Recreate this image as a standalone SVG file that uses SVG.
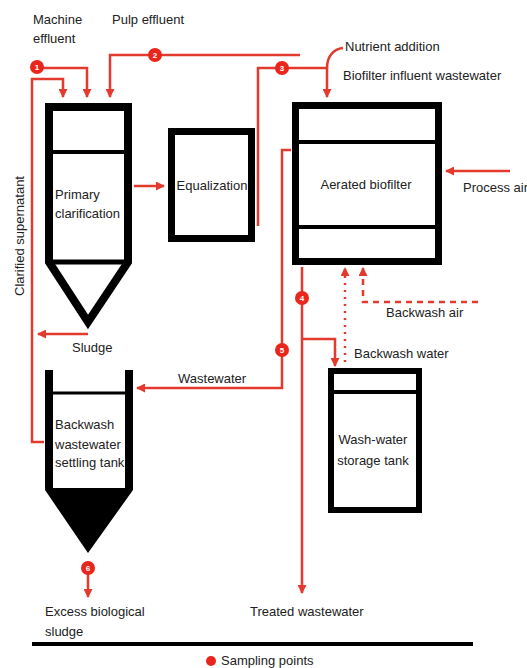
<svg xmlns="http://www.w3.org/2000/svg" width="527" height="668" viewBox="0 0 527 668">
<style>
text{font-family:"Liberation Sans",Arial,sans-serif;font-size:13px;fill:#222}
.c{text-anchor:middle}
.box{fill:#fff;stroke:#000;stroke-width:7}
.div{stroke:#000;stroke-width:4}
.r{fill:none;stroke:#e23a2c;stroke-width:2.5}
.dot{stroke-dasharray:2 5}
.dash{stroke-dasharray:6 5}
.sp{fill:#e8261c}
.num{font-size:8px;fill:#fff;text-anchor:middle;font-weight:bold}
</style>
<defs>
<marker id="a" markerUnits="userSpaceOnUse" markerWidth="9" markerHeight="9" refX="8" refY="4.5" orient="auto">
<path d="M0,0 L9,4.5 L0,9 z" fill="#e23a2c"/>
</marker>
</defs>
<rect width="527" height="668" fill="#fff"/>

<g id="primary">
<path d="M49,107 H128 V262 L88,322 L49,262 Z" fill="#fff" stroke="#000" stroke-width="8" stroke-linejoin="miter"/>
<line class="div" x1="49" y1="152" x2="128" y2="152"/>
<line x1="49" y1="262" x2="128" y2="262" stroke="#000" stroke-width="5"/>
<text x="55" y="199">Primary</text>
<text x="55" y="218">clarification</text>
</g>

<g id="equalization">
<rect class="box" x="171.5" y="131.5" width="80" height="107"/>
<text class="c" x="212" y="190">Equalization</text>
</g>

<g id="biofilter">
<rect class="box" x="295.5" y="105.5" width="143" height="156"/>
<line class="div" x1="296" y1="142" x2="438" y2="142"/>
<line class="div" x1="296" y1="227" x2="438" y2="227"/>
<text class="c" x="366" y="189">Aerated biofilter</text>
</g>

<g id="washwater">
<rect x="331" y="371" width="88" height="139" fill="#fff" stroke="#000" stroke-width="6"/>
<line class="div" x1="331" y1="392" x2="419" y2="392"/>
<text class="c" x="373" y="444">Wash-water</text>
<text class="c" x="373" y="465">storage tank</text>
</g>

<g id="settling">
<path d="M45,370 H53 V488 H125 V370 H133 V490 L88,553 L45,490 Z" fill="#000"/>
<line x1="53" y1="393" x2="125" y2="393" stroke="#000" stroke-width="3"/>
<text x="55" y="429">Backwash</text>
<text x="55" y="449">wastewater</text>
<text x="55" y="467">settling tank</text>
</g>

<g id="connectors">
<path class="r" d="M44,442 H32 V79 H63 V97" marker-end="url(#a)"/>
<path class="r" d="M37,68 H87 V97" marker-end="url(#a)"/>
<path class="r" d="M300,55 H110 V97" marker-end="url(#a)"/>
<path class="r" d="M134,186 H164" marker-end="url(#a)"/>
<path class="r" d="M258,226 V68 H327 V97" marker-end="url(#a)"/>
<path class="r" d="M327,68 C327,57 333,49 343,48"/>
<path class="r" d="M510,171 H446" marker-end="url(#a)"/>
<path class="r" d="M291,150 H282 V388 H137" marker-end="url(#a)"/>
<path class="r" d="M302,267 V593" marker-end="url(#a)"/>
<path class="r" d="M302,339 H335 V366" marker-end="url(#a)"/>
<path class="r dot" d="M345,362 V268" marker-end="url(#a)"/>
<path class="r dash" d="M478,302 H363 V268" marker-end="url(#a)"/>
<path class="r" d="M88,334 H38" marker-end="url(#a)"/>
<path class="r" d="M88,568 V597" marker-end="url(#a)"/>
</g>

<g id="sampling-points">
<circle class="sp" cx="37" cy="67" r="7"/><text class="num" x="37" y="70">1</text>
<circle class="sp" cx="155" cy="55" r="7"/><text class="num" x="155" y="58">2</text>
<circle class="sp" cx="282" cy="68" r="7"/><text class="num" x="282" y="71">3</text>
<circle class="sp" cx="302" cy="298" r="7"/><text class="num" x="302" y="301">4</text>
<circle class="sp" cx="282" cy="350" r="7"/><text class="num" x="282" y="353">5</text>
<circle class="sp" cx="88" cy="568" r="7"/><text class="num" x="88" y="571">6</text>
</g>

<g id="labels">
<text x="33" y="24">Machine</text>
<text x="33" y="43">effluent</text>
<text x="112" y="24">Pulp effluent</text>
<text x="345" y="51">Nutrient addition</text>
<text x="343" y="80">Biofilter influent wastewater</text>
<text x="463" y="192">Process air</text>
<text transform="translate(24,236) rotate(-90)" class="c">Clarified supernatant</text>
<text x="72" y="352">Sludge</text>
<text x="178" y="383">Wastewater</text>
<text x="386" y="317">Backwash air</text>
<text x="354" y="358">Backwash water</text>
<text x="45" y="616">Excess biological</text>
<text x="45" y="636">sludge</text>
<text x="250" y="616">Treated wastewater</text>
</g>

<line x1="32" y1="644" x2="473" y2="644" stroke="#000" stroke-width="4"/>
<g id="legend">
<circle class="sp" cx="211" cy="661" r="5"/>
<text x="221" y="665">Sampling points</text>
</g>
</svg>
